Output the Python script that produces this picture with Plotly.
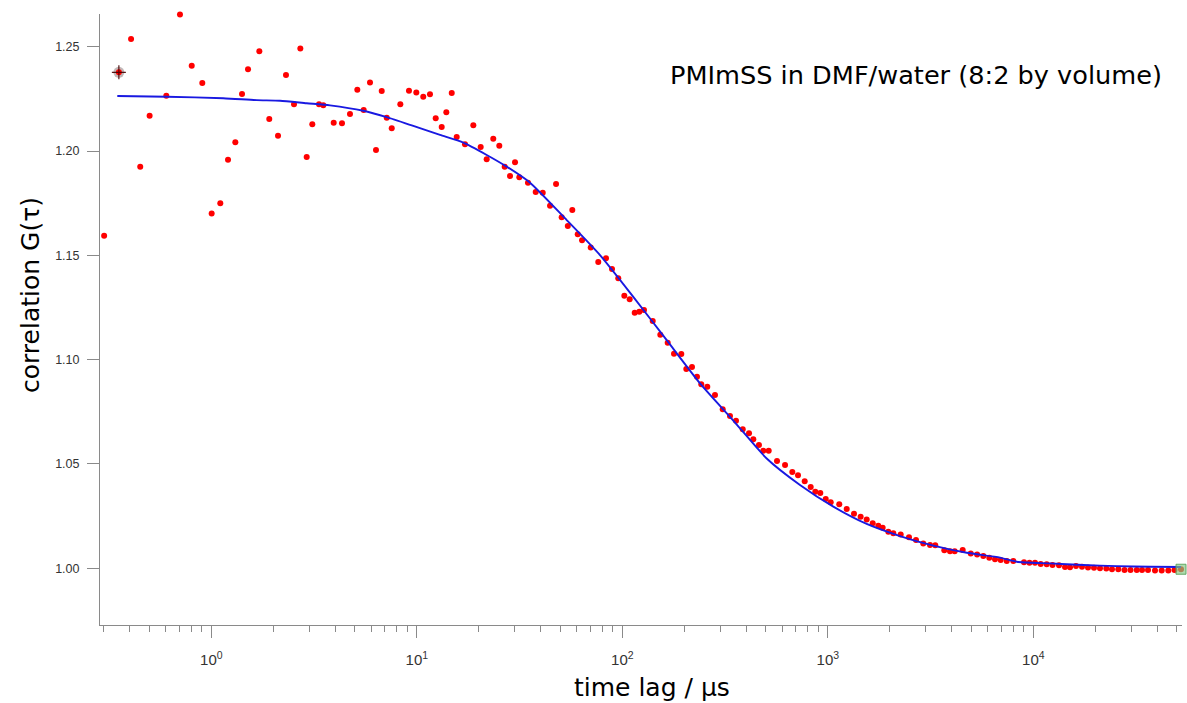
import plotly.graph_objects as go

# ---- data (lag time in microseconds, correlation G) ----
lag_us = [
    0.301, 0.355, 0.407, 0.451, 0.501, 0.604, 0.704, 0.803, 0.904, 1.004,
    1.106, 1.206, 1.309, 1.411, 1.509, 1.713, 1.915, 2.112, 2.309, 2.526,
    2.712, 2.912, 3.101, 3.343, 3.508, 3.941,
    4.325, 4.73, 5.135, 5.515, 5.92, 6.33, 6.75, 7.14, 7.55, 8.315,
    9.16, 9.945, 10.75, 11.59, 12.36, 13.22, 13.92, 14.79, 15.64, 17.16,
    18.84, 20.46, 21.88, 23.56, 25.2, 26.77, 28.42, 30.06, 31.54, 34.75,
    37.9, 41.0, 44.5, 47.6, 50.7, 54.3, 57.1, 60.7, 63.7, 70.2,
    76.4, 83.3, 89.1, 95.6, 102.3, 108.6, 114.9, 121.0, 127.5, 140.6,
    153.1, 166.3, 178.5, 193.7, 204.9, 218.3, 230.9, 242.3, 259.2, 282.5,
    308.0, 334.2, 357.5, 385.5, 413.6, 434.1, 462.4, 485.3, 515.8, 566.0,
    619.3, 672.0, 716.1, 772.0, 825.6, 869.3, 919.4, 977, 1033, 1137,
    1236, 1341, 1445, 1546, 1654, 1761, 1849, 1970, 2083, 2263,
    2483, 2687, 2915, 3144, 3334, 3689, 3932, 4145, 4533, 4960,
    5330, 5713, 6108, 6512, 6940, 7424, 7992, 9011, 9583, 10192,
    10864, 11620, 12400, 13336, 14266, 15089, 16137, 17258, 18457, 19739,
    21110, 22660, 24150, 25920, 27790, 29720, 31870, 33810, 36160, 39100,
    42150, 45390, 48660, 52330,
]
g_data = [
    1.1594, 1.2377, 1.2537, 1.1925, 1.2169, 1.2265, 1.2655, 1.2409, 1.2326, 1.1700,
    1.1749, 1.1958, 1.2042, 1.2273, 1.2392, 1.2478, 1.2153, 1.2073, 1.2364, 1.2224,
    1.2492, 1.1971, 1.2128, 1.2224, 1.2219, 1.2136,
    1.2133, 1.2177, 1.2294, 1.2197, 1.2329, 1.2005, 1.2288, 1.2160, 1.2109, 1.2224,
    1.2289, 1.2281, 1.2260, 1.2272, 1.2157, 1.2115, 1.2186, 1.2278, 1.2067, 1.2032,
    1.2123, 1.2019, 1.1960, 1.2059, 1.2025, 1.1925, 1.1880, 1.1946, 1.1874, 1.1848,
    1.1803, 1.1800, 1.1738, 1.1842, 1.1682, 1.1640, 1.1717, 1.1601, 1.1572, 1.1538,
    1.1468, 1.1486, 1.1434, 1.1390, 1.1306, 1.1289, 1.1225, 1.1230, 1.1238, 1.1185,
    1.1119, 1.1081, 1.1028, 1.1027, 1.0955, 1.0964, 1.0918, 1.0882, 1.0870, 1.0830,
    1.0762, 1.0730, 1.0707, 1.0666, 1.0647, 1.0618, 1.0591, 1.0563, 1.0563, 1.0514,
    1.0495, 1.0461, 1.0445, 1.0417, 1.0389, 1.0367, 1.0360, 1.0332, 1.0316, 1.0306,
    1.0284, 1.0261, 1.0247, 1.0234, 1.0215, 1.0204, 1.0194, 1.0175, 1.0167, 1.0162,
    1.0148, 1.0135, 1.0119, 1.0111, 1.0110, 1.0086, 1.0081, 1.0081, 1.0087, 1.0071,
    1.0066, 1.0058, 1.0050, 1.0043, 1.0039, 1.0035, 1.0035, 1.0028, 1.0026, 1.0026,
    1.0020, 1.0019, 1.0015, 1.0014, 1.0006, 1.0004, 1.0010, 1.0007, 1.0003, 1.0002,
    1.0000, 0.9998, 0.9995, 0.9995, 0.9991, 0.9991, 0.9991, 0.9991, 0.9991, 0.9989,
    0.9989, 0.9989, 0.9991, 0.9995,
]

# fitted curve, sampled along the drawn line
fit_lag_us = [
    0.3488, 0.6067, 1.144, 1.663, 2.160, 2.912, 3.781, 5.492, 7.137, 9.616,
    12.97, 16.84, 21.89, 27.38, 35.56, 53.63, 77.89, 113.1, 164.5, 238.8,
    346.8, 504.3, 732.3, 1064, 1546, 2245, 3262, 4742, 6887, 8304,
    12060, 17510, 25450, 36980, 52330,
]
fit_g = [
    1.2264, 1.2260, 1.2253, 1.2244, 1.2241, 1.2229, 1.2219, 1.2193, 1.2162, 1.2120,
    1.2077, 1.2040, 1.1981, 1.1925, 1.1848, 1.1669, 1.1501, 1.1301, 1.1093, 1.0886,
    1.0708, 1.0526, 1.0399, 1.0295, 1.0212, 1.0154, 1.0108, 1.0074, 1.0051, 1.0031,
    1.0023, 1.0015, 1.0010, 1.0007, 1.0006,
]

x_major_vals = [1, 10, 100, 1000, 10000]
x_major_text = ["10<sup>0</sup>", "10<sup>1</sup>", "10<sup>2</sup>",
                "10<sup>3</sup>", "10<sup>4</sup>"]
x_minor_vals = ([0.3, 0.4, 0.5, 0.6, 0.7, 0.8, 0.9]
                + [2, 3, 4, 5, 6, 7, 8, 9]
                + [20, 30, 40, 50, 60, 70, 80, 90]
                + [200, 300, 400, 500, 600, 700, 800, 900]
                + [2000, 3000, 4000, 5000, 6000, 7000, 8000, 9000]
                + [20000, 30000, 40000, 50000])
y_tick_vals = [1.00, 1.05, 1.10, 1.15, 1.20, 1.25]

title_text = "PMImSS in DMF/water (8:2 by volume)"
x_title = "time lag / μs"
y_title = "correlation G(τ)"

AXIS_GREY = "#8a8a8a"
TEXT_FONT = "DejaVu Sans"
TICK_FONT = "Liberation Sans, Arial"

fig = go.Figure()

# cursor A halo (Igor cursor on 2nd point)
fig.add_trace(go.Scatter(
    x=[lag_us[1]], y=[g_data[1]], mode="markers", cliponaxis=False,
    marker=dict(symbol="circle", size=11, color="rgba(120,95,95,0.45)",
                line=dict(width=0)),
    hoverinfo="skip", showlegend=False))

# data points
fig.add_trace(go.Scatter(
    x=lag_us, y=g_data, mode="markers", cliponaxis=False,
    marker=dict(symbol="circle", size=6, color="#ff0000", line=dict(width=0)),
    showlegend=False))

# fit line
fig.add_trace(go.Scatter(
    x=fit_lag_us, y=fit_g, mode="lines",
    line=dict(color="rgb(25,25,225)", width=1.9, shape="spline", smoothing=0.6),
    showlegend=False))

# cursor A cross
fig.add_trace(go.Scatter(
    x=[lag_us[1]], y=[g_data[1]], mode="markers", cliponaxis=False,
    marker=dict(symbol="cross-thin", size=10, color="rgba(70,0,0,0.9)",
                line=dict(width=1.2, color="rgba(70,0,0,0.9)")),
    hoverinfo="skip", showlegend=False))

# cursor B (green square on last point)
fig.add_trace(go.Scatter(
    x=[lag_us[-1]], y=[g_data[-1]], mode="markers", cliponaxis=False,
    marker=dict(symbol="square", size=10, color="rgba(130,200,130,0.65)",
                line=dict(width=1, color="rgba(90,160,90,0.9)")),
    hoverinfo="skip", showlegend=False))

fig.update_layout(
    width=1187, height=703,
    margin=dict(l=100, r=5, t=14, b=78),
    paper_bgcolor="white", plot_bgcolor="white",
    showlegend=False,
    xaxis=dict(
        type="log", range=[-0.5416, 4.7236],
        showgrid=False, zeroline=False,
        showline=True, linecolor=AXIS_GREY, linewidth=1,
        ticks="outside", ticklen=12, tickwidth=1, tickcolor=AXIS_GREY,
        tickmode="array", tickvals=x_major_vals, ticktext=x_major_text,
        tickfont=dict(family=TICK_FONT, size=15, color="#333333"),
        ticklabelstandoff=9,
        minor=dict(tickmode="array", tickvals=x_minor_vals, ticks="outside",
                   ticklen=6, tickwidth=1, tickcolor=AXIS_GREY, showgrid=False),
    ),
    yaxis=dict(
        range=[0.97277, 1.26568],
        showgrid=False, zeroline=False,
        showline=True, linecolor=AXIS_GREY, linewidth=1,
        ticks="outside", ticklen=12, tickwidth=1, tickcolor=AXIS_GREY,
        tickmode="array", tickvals=y_tick_vals,
        tickformat=".2f",
        tickfont=dict(family=TICK_FONT, size=12.5, color="#333333"),
        ticklabelstandoff=5,
    ),
    annotations=[
        dict(text=title_text, xref="paper", yref="paper",
             x=0.9834, y=0.9002, xanchor="right", yanchor="middle",
             showarrow=False, font=dict(family=TEXT_FONT, size=25.6, color="black")),
        dict(text=x_title, xref="paper", yref="paper",
             x=0.5102, y=-0.1031, xanchor="center", yanchor="middle",
             showarrow=False, font=dict(family=TEXT_FONT, size=25, color="black")),
        dict(text=y_title, xref="paper", yref="paper",
             x=-0.0647, y=0.540, xanchor="center", yanchor="middle",
             textangle=-90,
             showarrow=False, font=dict(family=TEXT_FONT, size=25, color="black")),
    ],
)

fig.write_html(
    "out.html",
    config={"displayModeBar": False},
    post_script="document.body.style.margin='0';document.body.style.overflow='hidden';",
)
